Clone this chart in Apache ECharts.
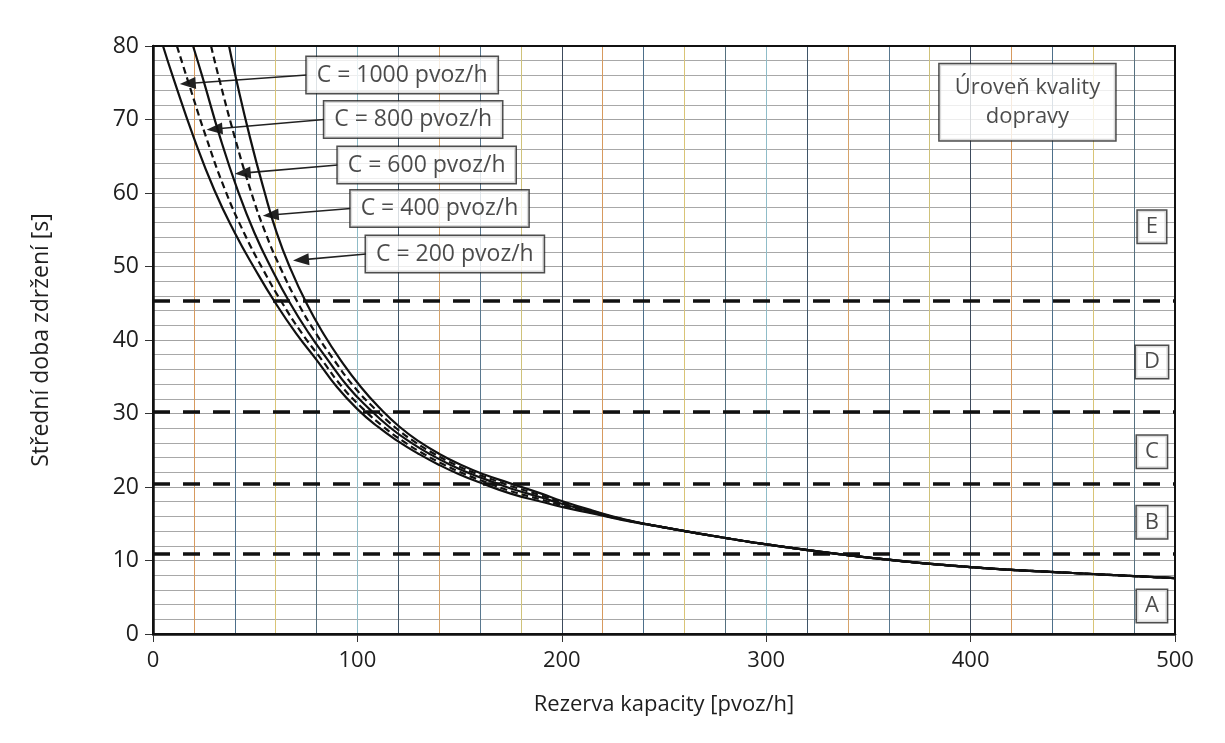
<!DOCTYPE html>
<html><head><meta charset="utf-8">
<script src="https://cdn.jsdelivr.net/npm/echarts@6/dist/echarts.min.js"></script>
<style>html,body{margin:0;padding:0;background:#fff}#c{width:1225px;height:743px}</style>
</head><body><div id="c"></div>
<script>
// ---- data ----
const xTicks = [0, 100, 200, 300, 400, 500];
const yTicks = [0, 10, 20, 30, 40, 50, 60, 70, 80];
const xName = 'Rezerva kapacity [pvoz/h]';
const yName = 'Střední doba zdržení [s]';

// shared tail where all five curves coincide (x, y)
const tail = [[250, 14.5], [275, 13.3], [300, 12.2], [350, 10.4], [400, 9.1], [450, 8.3], [500, 7.6]];
// curves above the merge point (x, y)
const c1000 = [[4.9, 80], [10, 75.6], [20, 67.5], [30, 60.4], [40, 54.6], [50, 49.6], [60, 45.0], [70, 40.9], [80, 37.3], [90, 33.6], [100, 30.6], [110, 28.2], [120, 26.2], [130, 24.5], [140, 23.0], [150, 21.7], [160, 20.6], [175, 19.1], [190, 18.0], [200, 17.3], [215, 16.4], [230, 15.5]];
const c800  = [[11.7, 80], [16.7, 75.6], [26.1, 67.5], [35.3, 60.4], [44.5, 54.6], [53.8, 49.6], [63.3, 45.0], [72.9, 40.9], [82.6, 37.3], [92.6, 33.6], [102.9, 30.6], [112.7, 28.2], [122.5, 26.2], [132.5, 24.5], [142.7, 23.0], [153.0, 21.7], [163.4, 20.6], [175, 19.44], [190, 18.28], [200, 17.5], [215, 16.5], [230, 15.54]];
const c600  = [[19.6, 80], [24.4, 75.6], [32.9, 67.5], [41.4, 60.4], [49.6, 54.6], [58.2, 49.6], [67.1, 45.0], [76.3, 40.9], [85.5, 37.3], [95.5, 33.6], [105.9, 30.6], [115.5, 28.2], [125.3, 26.2], [135.3, 24.5], [145.6, 23.0], [156.3, 21.7], [167.1, 20.6], [175, 19.8], [190, 18.57], [200, 17.72], [215, 16.61], [230, 15.58]];
const c400  = [[28.4, 80], [32.3, 75.6], [40.1, 67.5], [47.7, 60.4], [55.0, 54.6], [62.7, 49.6], [71.0, 45.0], [79.7, 40.9], [88.5, 37.3], [98.5, 33.6], [108.7, 30.6], [118.1, 28.2], [127.7, 26.2], [137.7, 24.5], [148.2, 23.0], [159.2, 21.7], [170.4, 20.6], [175, 20.13], [190, 18.84], [200, 17.91], [215, 16.7], [230, 15.61]];
const c200  = [[37.2, 80], [40.6, 75.6], [47.5, 67.5], [54.3, 60.4], [60.5, 54.6], [67.4, 49.6], [75.1, 45.0], [83.3, 40.9], [91.7, 37.3], [101.7, 33.6], [111.4, 30.6], [120.6, 28.2], [130.1, 26.2], [140.1, 24.5], [150.8, 23.0], [162.1, 21.7], [173.7, 20.6], [190, 19.1], [200, 18.1], [215, 16.8], [230, 15.65]];
const curveNames = ['C = 1000 pvoz/h', 'C = 800 pvoz/h', 'C = 600 pvoz/h', 'C = 400 pvoz/h', 'C = 200 pvoz/h'];
const curves = [c1000, c800, c600, c400, c200];
const curveDashed = [false, true, false, true, false];

// level of service thresholds and labels
const thresholds = [10.9, 20.5, 30.3, 45.3];
const levelNames = ['A', 'B', 'C', 'D', 'E'];
const levelY = [3.8, 15.2, 24.8, 37.0, 55.4];
const levelX = 488.7;
const levelTitle = 'Úroveň kvality\ndopravy';
const levelTitlePos = [427.8, 72.35];

// annotation arrows: box anchor (start) -> arrow head centre (end)
const arrowStart = [[75.2, 76.05], [83.8, 70.0], [90.4, 63.8], [96.7, 57.9], [104.2, 51.7]];
const arrowEnd   = [[17.0, 74.9], [30.1, 68.7], [43.9, 62.7], [57.6, 57.0], [72.4, 50.9]];

// ---- chart ----
const FONT = 'Open Sans';
const TXT = '#1e1e1e';
const vColors = ['#3c4a5c','#d79a5e','#4d6f8a','#d9c476','#55707f','#8fbcc8','#3f5568','#d6a36a','#59788f','#cfc27a'];

const series = [];
curves.forEach((c, i) => {
  series.push({
    type: 'line', name: curveNames[i], data: c.concat(tail), showSymbol: false,
    smooth: 0.5,
    lineStyle: { color: '#111', width: 2.2, type: curveDashed[i] ? [7, 4] : 'solid' },
    z: 5, silent: true
  });
});
series.push({
  type: 'line', data: [], silent: true,
  markLine: {
    silent: true, symbol: 'none', animation: false,
    label: { show: false },
    lineStyle: { color: '#111', width: 3.6, type: [17, 13] },
    data: thresholds.map(v => ({ yAxis: v }))
  }
});
series.push({
  type: 'line', data: [], silent: true,
  markLine: {
    silent: true, animation: false, symbol: ['none', 'triangle'], symbolSize: [12, 16],
    label: { show: false },
    lineStyle: { color: '#222', width: 1.6, type: 'solid' },
    itemStyle: { color: '#111' },
    data: arrowStart.map((s, i) => [{ coord: s }, { coord: arrowEnd[i] }])
  }
});
series.push({
  type: 'scatter', symbolSize: 0, silent: true, z: 10,
  data: arrowStart.map((s, i) => ({ value: s, name: curveNames[i] })),
  label: {
    show: true, position: 'right', distance: 0, formatter: p => p.name,
    fontFamily: FONT, fontSize: 23, color: TXT, lineHeight: 27,
    backgroundColor: '#fff', borderColor: '#222', borderWidth: 1.5, padding: [5, 10, 4, 10]
  }
});
series.push({
  type: 'scatter', symbolSize: 0, silent: true, z: 10,
  data: levelNames.map((n, i) => ({ value: [levelX, levelY[i]], name: n })),
  label: {
    show: true, position: 'inside', formatter: p => p.name,
    fontFamily: FONT, fontSize: 22, color: TXT, lineHeight: 25,
    backgroundColor: '#fff', borderColor: '#222', borderWidth: 1.5, padding: [4, 8, 3, 8]
  }
});
series.push({
  type: 'scatter', symbolSize: 0, silent: true, z: 10,
  data: [{ value: levelTitlePos, name: levelTitle }],
  label: {
    show: true, position: 'inside', formatter: p => p.name, align: 'center',
    fontFamily: FONT, fontSize: 22, color: TXT, lineHeight: 29,
    backgroundColor: '#fff', borderColor: '#222', borderWidth: 1.5, padding: [9, 15, 9, 15]
  }
});

const chart = echarts.init(document.getElementById('c'), null, { renderer: 'canvas' });
chart.setOption({
  animation: false,
  backgroundColor: '#fff',
  grid: { left: 153, right: 50, top: 46, bottom: 109, show: true, borderColor: '#111', borderWidth: 2, backgroundColor: 'transparent', z: 8 },
  xAxis: [{
    type: 'value', min: xTicks[0], max: xTicks[xTicks.length - 1], interval: 100,
    name: xName, nameLocation: 'middle', nameGap: 60,
    nameTextStyle: { fontFamily: FONT, fontSize: 22, color: TXT },
    axisLine: { show: true, lineStyle: { color: '#111', width: 2.5 } },
    axisTick: { show: true, length: 8, lineStyle: { color: '#333', width: 1 } },
    axisLabel: { fontFamily: FONT, fontSize: 22, color: TXT, margin: 16 },
    splitLine: { show: false }
  }, {
    type: 'value', min: 0, max: 500, interval: 20, position: 'bottom',
    axisLine: { show: false }, axisTick: { show: false }, axisLabel: { show: false },
    splitLine: { show: true, lineStyle: { color: vColors, width: 1 } }
  }],
  yAxis: {
    type: 'value', min: yTicks[0], max: yTicks[yTicks.length - 1], interval: 10,
    name: yName, nameLocation: 'middle', nameGap: 100,
    nameTextStyle: { fontFamily: FONT, fontSize: 23, color: TXT },
    axisLine: { show: true, lineStyle: { color: '#111', width: 2.5 } },
    axisTick: { show: true, length: 8, lineStyle: { color: '#333', width: 1 } },
    axisLabel: { fontFamily: FONT, fontSize: 23, color: TXT, margin: 14 },
    splitLine: { show: true, lineStyle: { color: '#a3a3a3', width: 1 } },
    minorTick: { show: false, splitNumber: 5 },
    minorSplitLine: { show: true, lineStyle: { color: '#a8a8a8', width: 1 } }
  },
  series
});
</script></body></html>
